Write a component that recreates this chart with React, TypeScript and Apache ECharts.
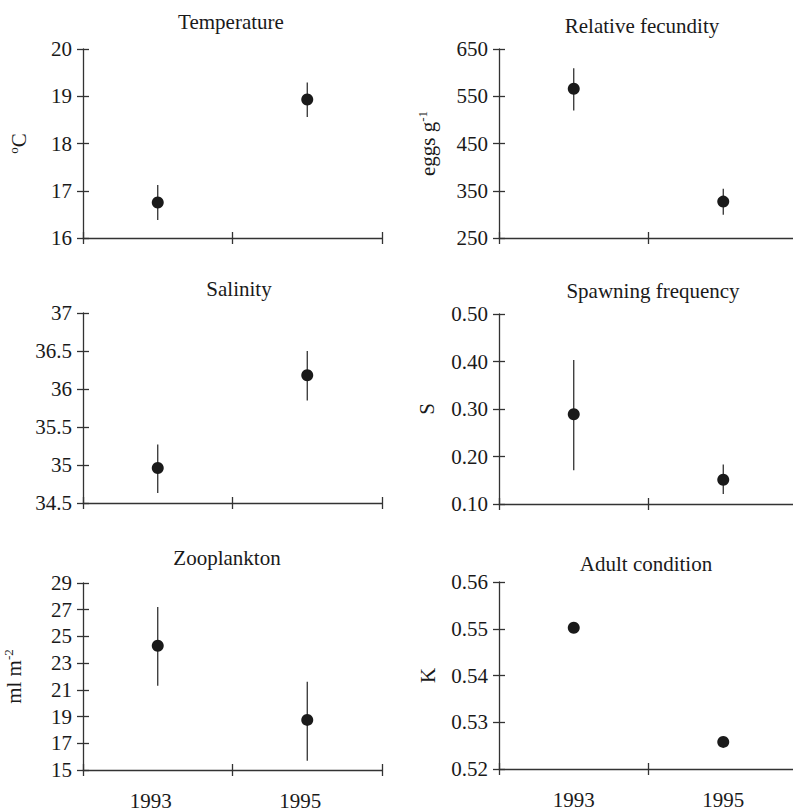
import React, { useEffect, useRef } from "react";
import * as echarts from "echarts";

// ---------- data ----------
const years = ["1993", "1995"];

const tempMean = [16.75, 18.93];
const tempLow = [16.38, 18.56];
const tempHigh = [17.12, 19.29];
const tempTicks = [16, 17, 18, 19, 20];

const fecMean = [566, 327];
const fecLow = [520, 299];
const fecHigh = [609, 354];
const fecTicks = [250, 350, 450, 550, 650];

const salMean = [34.96, 36.18];
const salLow = [34.63, 35.85];
const salHigh = [35.27, 36.5];
const salTicks = [34.5, 35, 35.5, 36, 36.5, 37];

const spawnMean = [0.289, 0.151];
const spawnLow = [0.171, 0.121];
const spawnHigh = [0.403, 0.183];
const spawnTicks = [0.1, 0.2, 0.3, 0.4, 0.5];

const zooMean = [24.3, 18.75];
const zooLow = [21.3, 15.7];
const zooHigh = [27.2, 21.6];
const zooTicks = [15, 17, 19, 21, 23, 25, 27, 29];

const condMean = [0.5502, 0.5258];
const condTicks = [0.52, 0.53, 0.54, 0.55, 0.56];

// ---------- layout ----------
const FONT = '"Liberation Serif", "Times New Roman", Times, serif';
const INK = "#1a1a1a";
const AXIS = "#333333";

type Panel = {
  title: string;
  tx: number;
  ty: number;
  left: number;
  top: number;
  height: number;
  ticks: number[];
  mean: number[];
  low?: number[];
  high?: number[];
  name?: string;
  nameGap?: number;
  decimals?: number;
  bottom: boolean;
  labelShift?: number;
};

const panels: Panel[] = [
  { title: "Temperature", tx: 231, ty: 11, left: 83, top: 49, height: 189, ticks: tempTicks, mean: tempMean, low: tempLow, high: tempHigh, name: "{sup|o}C", nameGap: 53, bottom: false },
  { title: "Relative fecundity", tx: 642, ty: 15, left: 499, top: 49, height: 189, ticks: fecTicks, mean: fecMean, low: fecLow, high: fecHigh, name: "eggs g{sup|-1}", nameGap: 60, bottom: false },
  { title: "Salinity", tx: 239, ty: 278, left: 83, top: 313, height: 190, ticks: salTicks, mean: salMean, low: salLow, high: salHigh, bottom: false },
  { title: "Spawning frequency", tx: 653, ty: 280, left: 499, top: 314, height: 190, ticks: spawnTicks, mean: spawnMean, low: spawnLow, high: spawnHigh, name: "S", nameGap: 62, decimals: 2, bottom: false },
  { title: "Zooplankton", tx: 227, ty: 547, left: 83, top: 583, height: 187, ticks: zooTicks, mean: zooMean, low: zooLow, high: zooHigh, name: "ml m{sup|-2}", nameGap: 58, bottom: true, labelShift: 14 },
  { title: "Adult condition", tx: 646, ty: 553, left: 499, top: 582, height: 187, ticks: condTicks, mean: condMean, name: "K", nameGap: 61, decimals: 2, bottom: true },
];

const PANEL_W = 299;

function buildOption() {
  const grid: any[] = [];
  const xAxis: any[] = [];
  const yAxis: any[] = [];
  const series: any[] = [];
  const title: any[] = [];
  const lineStyle = { color: AXIS, width: 1.3 };

  panels.forEach((p, i) => {
    grid.push({
      left: p.left,
      top: p.top,
      width: PANEL_W,
      height: p.height,
      containLabel: false,
      outerBoundsMode: "none",
    });
    title.push({
      text: p.title,
      left: p.tx,
      top: p.ty,
      textAlign: "center",
      padding: 0,
      textStyle: { fontFamily: FONT, fontSize: 21, fontWeight: "normal", color: INK },
    });
    xAxis.push({
      type: "category",
      gridIndex: i,
      data: years,
      position: "bottom",
      boundaryGap: true,
      axisLine: { show: true, onZero: false, lineStyle },
      axisTick: { show: true, inside: false, length: 6, lineStyle },
      axisLabel: {
        show: p.bottom,
        margin: 20,
        fontFamily: FONT,
        fontSize: 21,
        color: INK,
        padding: p.labelShift ? [0, p.labelShift, 0, 0] : 0,
      },
      splitLine: { show: false },
    });
    xAxis.push({
      type: "category",
      gridIndex: i,
      data: years,
      position: "bottom",
      boundaryGap: true,
      axisLine: { show: false, onZero: false },
      axisTick: { show: true, inside: true, length: 6, lineStyle },
      axisLabel: { show: false },
      splitLine: { show: false },
    });
    const fmt = (v: number) => (p.decimals != null ? v.toFixed(p.decimals) : String(v));
    yAxis.push({
      type: "value",
      gridIndex: i,
      position: "left",
      min: p.ticks[0],
      max: p.ticks[p.ticks.length - 1],
      axisLine: { show: true, onZero: false, lineStyle },
      axisTick: { show: true, inside: false, length: 6, lineStyle, customValues: p.ticks },
      axisLabel: {
        show: true,
        customValues: p.ticks,
        formatter: fmt,
        margin: 11,
        fontFamily: FONT,
        fontSize: 21,
        color: INK,
      },
      splitLine: { show: false },
      name: p.name || "",
      nameLocation: "middle",
      nameGap: p.nameGap || 50,
      nameRotate: 90,
      nameTextStyle: {
        fontFamily: FONT,
        fontSize: 21,
        color: INK,
        rich: {
          sup: { fontFamily: FONT, fontSize: 13, color: INK, verticalAlign: "top", padding: [0, 0, 10, 0] },
        },
      },
    });
    yAxis.push({
      type: "value",
      gridIndex: i,
      position: "left",
      min: p.ticks[0],
      max: p.ticks[p.ticks.length - 1],
      axisLine: { show: false, onZero: false },
      axisTick: { show: true, inside: true, length: 6, lineStyle, customValues: p.ticks },
      axisLabel: { show: false, customValues: p.ticks },
      splitLine: { show: false },
    });
    if (p.low && p.high) {
      const low = p.low;
      const high = p.high;
      series.push({
        type: "custom",
        xAxisIndex: 2 * i,
        yAxisIndex: 2 * i,
        data: years.map((_, k) => [k, low[k], high[k]]),
        encode: { x: 0, y: [1, 2] },
        renderItem: (params: any, api: any) => {
          const x = api.value(0);
          const a = api.coord([x, api.value(1)]);
          const b = api.coord([x, api.value(2)]);
          return {
            type: "line",
            shape: { x1: a[0], y1: a[1], x2: b[0], y2: b[1] },
            style: { stroke: "#222222", lineWidth: 1.2 },
          };
        },
        silent: true,
      });
    }
    series.push({
      type: "scatter",
      xAxisIndex: 2 * i,
      yAxisIndex: 2 * i,
      data: p.mean,
      symbol: "circle",
      symbolSize: 12,
      itemStyle: { color: INK, opacity: 1 },
      silent: true,
    });
  });

  return { animation: false, backgroundColor: "#ffffff", title, grid, xAxis, yAxis, series };
}

export default function App() {
  const ref = useRef<HTMLDivElement>(null);
  useEffect(() => {
    if (!ref.current) return;
    const chart = echarts.init(ref.current, null, { renderer: "svg" });
    chart.setOption(buildOption() as any);
    return () => chart.dispose();
  }, []);
  return (
    <div
      ref={ref}
      style={{ position: "absolute", left: 0, top: 0, width: 793, height: 811, background: "#fff" }}
    />
  );
}
